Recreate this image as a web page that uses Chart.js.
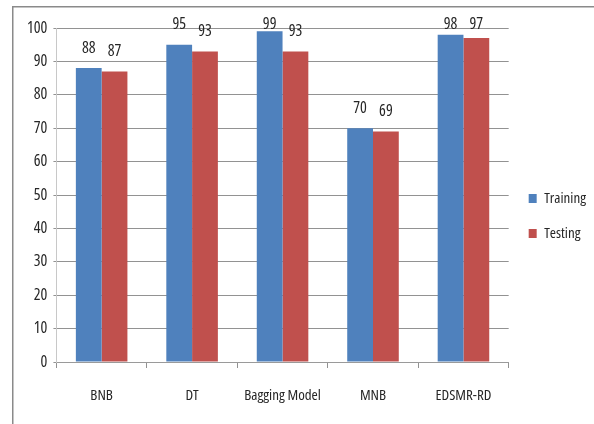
<!DOCTYPE html>
<html>
<head>
<meta charset="utf-8">
<script src="https://cdn.jsdelivr.net/npm/chart.js@4/dist/chart.umd.min.js"></script>
<style>
  html, body { margin: 0; padding: 0; background: #ffffff; }
  #wrap { width: 594px; height: 424px; position: relative; }
</style>
</head>
<body>
<div id="wrap"><canvas id="c" width="594" height="424"></canvas></div>
<script>
// Accuracy (%) of each model on training and testing data
const categories = ['BNB', 'DT', 'Bagging Model', 'MNB', 'EDSMR-RD'];
const training = [88, 95, 99, 70, 98];
const testing = [87, 93, 93, 69, 97];
const yTicks = [0, 10, 20, 30, 40, 50, 60, 70, 80, 90, 100];

// Narrow humanist face: Open Sans in its condensed width
const FAMILY = "'Open Sans', 'Roboto Condensed', sans-serif";
const WEIGHT = 'normal condensed';
const FONT = { family: FAMILY, size: 15, weight: WEIGHT };
const NUM_FONT = { family: FAMILY, size: 16, weight: WEIGHT };
const GRID = '#929292';
const TEXT = '#262626';

// Outer frame of the chart object, plus a small upward nudge of the legend
const framePlugin = {
  id: 'frame',
  afterLayout(chart) {
    if (chart.legend) {
      chart.legend.top -= 10;
      chart.legend.bottom -= 10;
    }
  },
  beforeDraw(chart) {
    const ctx = chart.ctx;
    ctx.save();
    ctx.fillStyle = '#ffffff';
    ctx.fillRect(0, 0, chart.width, chart.height);
    ctx.strokeStyle = '#8a8a8a';
    ctx.lineWidth = 1.5;
    ctx.strokeRect(12.75, 6.75, chart.width + 20, chart.height + 20);
    ctx.restore();
  }
};

// Value labels above each bar, kept from running off the top of the frame
const valueLabels = {
  id: 'valueLabels',
  afterDatasetsDraw(chart) {
    const ctx = chart.ctx;
    ctx.save();
    ctx.font = WEIGHT + ' ' + NUM_FONT.size + 'px ' + FAMILY;
    ctx.fillStyle = TEXT;
    ctx.textAlign = 'center';
    ctx.textBaseline = 'middle';
    chart.data.datasets.forEach((ds, i) => {
      chart.getDatasetMeta(i).data.forEach((bar, j) => {
        const y = Math.max(bar.y - 20, 24);
        ctx.fillText(String(ds.data[j]), bar.x, y);
      });
    });
    ctx.restore();
  }
};

new Chart(document.getElementById('c'), {
  type: 'bar',
  data: {
    labels: categories,
    datasets: [
      { label: 'Training', data: training, backgroundColor: '#4f81bd', borderWidth: 0 },
      { label: 'Testing', data: testing, backgroundColor: '#c0504d', borderWidth: 0 }
    ]
  },
  options: {
    responsive: false,
    animation: false,
    devicePixelRatio: 1,
    layout: { padding: { top: 28, left: 21, right: -2, bottom: 0 } },
    datasets: { bar: { categoryPercentage: 0.57, barPercentage: 1.0 } },
    plugins: {
      legend: {
        position: 'right',
        labels: {
          font: FONT,
          color: TEXT,
          boxWidth: 8,
          boxHeight: 9,
          padding: 20
        }
      },
      tooltip: { enabled: false }
    },
    scales: {
      x: {
        grid: { display: true, drawOnChartArea: false, offset: true, color: GRID, tickLength: 6 },
        border: { color: '#9a9a9a', width: 1 },
        ticks: { font: FONT, color: TEXT, padding: 19, maxRotation: 0, autoSkip: false }
      },
      y: {
        min: 0,
        max: 100,
        afterBuildTicks(scale) { scale.ticks = yTicks.map(v => ({ value: v })); },
        grid: { color: GRID, tickLength: 3 },
        border: { color: '#c8c8c8', width: 1 },
        ticks: { font: NUM_FONT, color: TEXT, padding: 6 }
      }
    }
  },
  plugins: [framePlugin, valueLabels]
});
</script>
</body>
</html>
